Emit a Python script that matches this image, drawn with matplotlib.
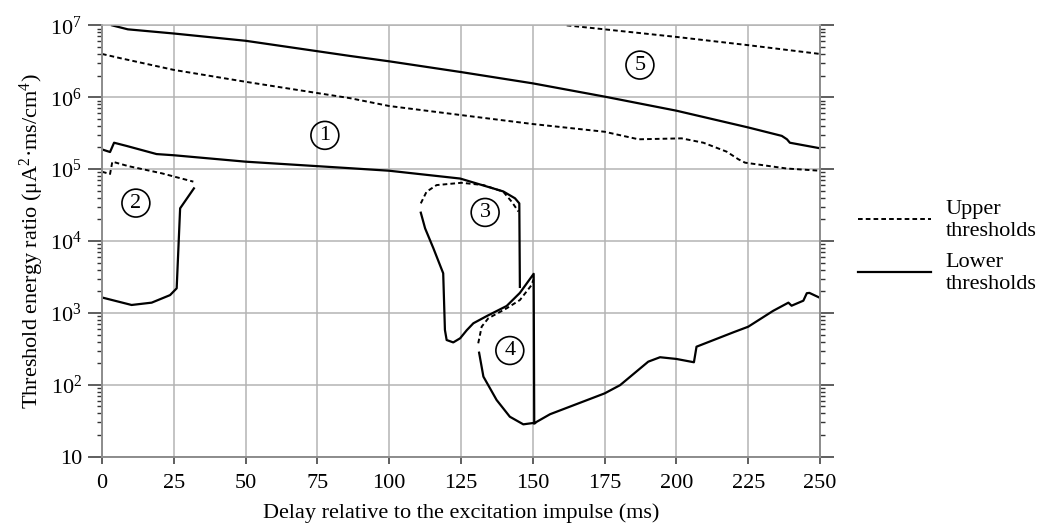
import numpy as np
import matplotlib
matplotlib.use("Agg")
import matplotlib.pyplot as plt
from matplotlib.ticker import LogLocator, FixedLocator

plt.rcParams['font.family'] = ['Liberation Serif', 'DejaVu Serif']
plt.rcParams['mathtext.fontset'] = 'custom'
plt.rcParams['mathtext.rm'] = 'Liberation Serif'
plt.rcParams['mathtext.it'] = 'Liberation Serif:italic'

# region 5 upper threshold
x_up5 = [161.8, 175, 200, 225, 250]
y_up5 = [1.0e7, 8.8e6, 6.9e6, 5.3e6, 4.0e6]

# region 5 lower / region 1 upper solid
x_lo5 = [3.5, 9, 25, 50, 86.4, 100, 125, 150, 175, 200, 225, 236.7, 238.5, 239.5, 250]
y_lo5 = [1.0e7, 8.8e6, 7.7e6, 6.1e6, 3.75e6, 3.16e6, 2.24e6, 1.56e6, 1.02e6, 6.5e5, 3.8e5, 2.9e5, 2.6e5, 2.33e5, 1.95e5]

# region 1 upper threshold (dashed)
x_up1 = [0, 6.3, 25, 50, 86.4, 100, 125, 150, 175, 186.8, 201.8, 209.4, 217.5, 221.6, 223.9, 238.4, 250]
y_up1 = [4.0e6, 3.5e6, 2.4e6, 1.64e6, 9.7e5, 7.55e5, 5.65e5, 4.24e5, 3.31e5, 2.6e5, 2.68e5, 2.33e5, 1.75e5, 1.37e5, 1.23e5, 1.02e5, 9.5e4]

# region 1 lower threshold (solid)
x_lo1 = [0, 2.8, 4.2, 8.6, 19, 25, 50, 86.4, 100, 124.7, 139.7, 143.8, 145.3, 145.5]
y_lo1 = [1.88e5, 1.73e5, 2.33e5, 2.1e5, 1.62e5, 1.56e5, 1.27e5, 1.03e5, 9.5e4, 7.4e4, 4.9e4, 3.93e4, 3.34e4, 2.3e3]

# region 2
x_up2 = [0, 2.8, 3.6, 9.2, 20.8, 31.8]
y_up2 = [9.2e4, 8.55e4, 1.27e5, 1.1e5, 8.75e4, 6.7e4]
x_lo2 = [32, 27.2, 26.0, 23.7, 17.3, 10.3, 0]
y_lo2 = [5.4e4, 2.85e4, 2.2e3, 1.77e3, 1.39e3, 1.29e3, 1.64e3]

# region 3
x_up3 = [111, 113, 116.5, 125.2, 132.8, 139.7, 142.7, 145]
y_up3 = [3.34e4, 4.85e4, 6.0e4, 6.46e4, 6.0e4, 4.86e4, 3.5e4, 2.57e4]
x_lo3 = [111, 112.5, 115.4, 118.8, 119.4, 120, 122.3, 124.7, 127, 129.3, 134, 140.9, 145.5, 150.3, 150.5]
y_lo3 = [2.48e4, 1.5e4, 7.9e3, 3.56e3, 580, 420, 389, 444, 575, 718, 906, 1.25e3, 1.9e3, 3.5e3, 29]

# region 4
x_up4 = [131, 132.2, 134.5, 140.9, 145.5, 149.6, 150.2]
y_up4 = [378, 645, 842, 1.16e3, 1.51e3, 2.45e3, 2.9e3]
x_lo4 = [131.3, 132.8, 137.4, 142, 146.7, 150.8]
y_lo4 = [280, 130, 61.5, 36, 28.2, 29.7]

# lower curve after 150 ms
x_lo6 = [150.8, 156, 175, 180.4, 190.2, 194.3, 200, 206.1, 207, 219.8, 225, 233.7, 239, 240.1, 244.2, 245.4, 246.3, 250]
y_lo6 = [29.7, 39, 76, 99, 210, 242, 229, 206, 339, 537, 643, 1.07e3, 1.39e3, 1.26e3, 1.48e3, 1.88e3, 1.9e3, 1.62e3]

region_labels = ['1', '2', '3', '4', '5']
region_x = [77.6, 11.8, 133.4, 142, 187.3]
region_y = [2.95e5, 3.37e4, 2.5e4, 300, 2.8e6]

x_ticks = [0, 25, 50, 75, 100, 125, 150, 175, 200, 225, 250]
y_ticks = [1e1, 1e2, 1e3, 1e4, 1e5, 1e6, 1e7]
y_ticklabels = ['10', '10$^2$', '10$^3$', '10$^4$', '10$^5$', '10$^6$', '10$^7$']

fs = 16
fig = plt.figure(figsize=(10.43, 5.28), dpi=100)
ax = fig.add_axes([0.0978, 0.135, 0.6884, 0.817])

dash = (0, (2.4, 1.6))
lw = 1.4
for xs, ys in [(x_up5, y_up5), (x_up1, y_up1), (x_up2, y_up2), (x_up3, y_up3), (x_up4, y_up4)]:
    ax.plot(xs, ys, color='black', lw=lw, linestyle=dash)
for xs, ys in [(x_lo5, y_lo5), (x_lo1, y_lo1), (x_lo2, y_lo2), (x_lo3, y_lo3), (x_lo4, y_lo4), (x_lo6, y_lo6)]:
    ax.plot(xs, ys, color='black', lw=lw + 0.2)

for lab, xx, yy in zip(region_labels, region_x, region_y):
    ax.text(xx, yy, lab, fontsize=fs, ha='center', va='center',
            bbox=dict(boxstyle='circle,pad=0.2', fc='none', ec='black', lw=1.2))

ax.set_yscale('log')
ax.set_xlim(0, 250)
ax.set_ylim(10, 1e7)
ax.xaxis.set_major_locator(FixedLocator(x_ticks))
ax.set_xticklabels([str(t) for t in x_ticks])
ax.yaxis.set_major_locator(FixedLocator(y_ticks))
ax.set_yticklabels(y_ticklabels)
ax.yaxis.set_minor_locator(LogLocator(base=10, subs=np.arange(2, 10)))
ax.yaxis.set_minor_formatter(plt.NullFormatter())

ax.grid(True, which='major', color='#b4b4b4', lw=1.1)
ax.set_axisbelow(True)
for s in ['left', 'right', 'bottom', 'top']:
    ax.spines[s].set_color('#8c8c8c')
    ax.spines[s].set_linewidth(1.4)
ax.spines['top'].set_color('#b4b4b4')
ax.spines['top'].set_linewidth(1.1)

ax.tick_params(axis='y', which='major', direction='out', length=10, width=1.1,
               color='#333333', labelsize=fs, left=True, right=True, pad=4.5)
ax.tick_params(axis='y', which='minor', direction='out', length=3.5, width=1.0,
               color='#333333', left=True, right=True)
ax.tick_params(axis='x', which='major', direction='out', length=5, width=1.1,
               color='#333333', labelsize=fs, top=False, pad=7.5)

ax.set_xlabel('Delay relative to the excitation impulse (ms)', fontsize=fs, labelpad=7)
ax.set_ylabel('Threshold energy ratio (μA$^2$·ms/cm$^4$)', fontsize=fs, labelpad=3)

ax.plot([], [], color='black', lw=lw, linestyle=dash, label='Upper\nthresholds')
ax.plot([], [], color='black', lw=lw + 0.2, label='Lower\nthresholds')
ax.legend(loc='center left', bbox_to_anchor=(1.04, 0.487), frameon=False, fontsize=fs,
          handlelength=3.3, handletextpad=0.65, labelspacing=0.55, borderaxespad=0)

fig.savefig('out.png', dpi=100)
